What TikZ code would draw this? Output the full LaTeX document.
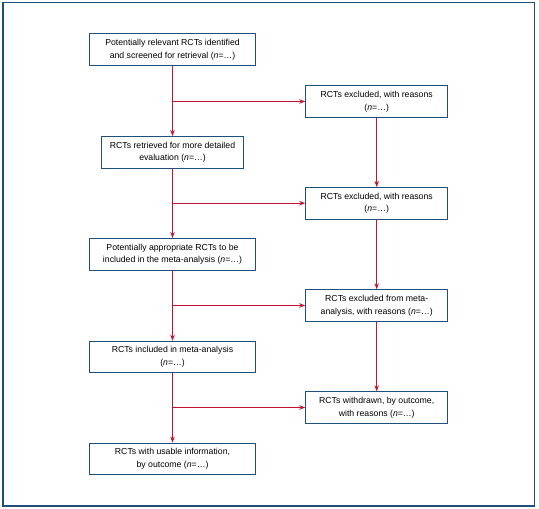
\documentclass[tikz,border=0pt]{standalone}
\usepackage{fontspec}
\setmainfont{Liberation Sans}
\usetikzlibrary{arrows.meta}
\definecolor{frameblue}{HTML}{1F4F7A}
\definecolor{arrred}{HTML}{C41230}
\begin{document}
\begin{tikzpicture}[x=1pt,y=1pt,
  box/.style={draw=frameblue, line width=0.9pt, fill=white, align=center,
    inner sep=0pt, minimum height=31.5pt, font=\fontsize{8.7}{12.7}\selectfont},
  wbox/.style={box, minimum width=165.5pt},
  nbox/.style={box, minimum width=142pt},
  arr/.style={draw=arrred, line width=0.9pt, -{Stealth[length=6pt,width=4.5pt]}}]
\useasboundingbox (0,0) rectangle (539,-509);
\draw[frameblue, line width=1.2pt] (3,-2.5) rectangle (534.3,-506);

\node[wbox] (b1) at (172.5,-49.5) {Potentially relevant RCTs identified\\and screened for retrieval (\textit{n}=…)};
\node[nbox] (b2) at (172.5,-152.2) {RCTs retrieved for more detailed\\evaluation (\textit{n}=…)};
\node[wbox] (b3) at (172.5,-254.2) {Potentially appropriate RCTs to be\\included in the meta-analysis (\textit{n}=…)};
\node[wbox] (b4) at (172.5,-357) {RCTs included in meta-analysis\\(\textit{n}=…)};
\node[wbox] (b5) at (172.5,-458.8) {RCTs with usable information,\\by outcome (\textit{n}=…)};

\node[nbox] (r1) at (376.7,-101.5) {RCTs excluded, with reasons\\(\textit{n}=…)};
\node[nbox] (r2) at (376.7,-203.2) {RCTs excluded, with reasons\\(\textit{n}=…)};
\node[nbox] (r3) at (376.7,-305.5) {RCTs excluded from meta-\\analysis, with reasons (\textit{n}=…)};
\node[nbox] (r4) at (376.7,-407.5) {RCTs withdrawn, by outcome,\\with reasons (\textit{n}=…)};

\draw[arr] (b1) -- (b2);
\draw[arr] (b2) -- (b3);
\draw[arr] (b3) -- (b4);
\draw[arr] (b4) -- (b5);

\draw[arr] (b1.south |- r1.west) -- (r1.west);
\draw[arr] (b2.south |- r2.west) -- (r2.west);
\draw[arr] (b3.south |- r3.west) -- (r3.west);
\draw[arr] (b4.south |- r4.west) -- (r4.west);

\draw[arr] (r1) -- (r2);
\draw[arr] (r2) -- (r3);
\draw[arr] (r3) -- (r4);
\end{tikzpicture}
\end{document}
